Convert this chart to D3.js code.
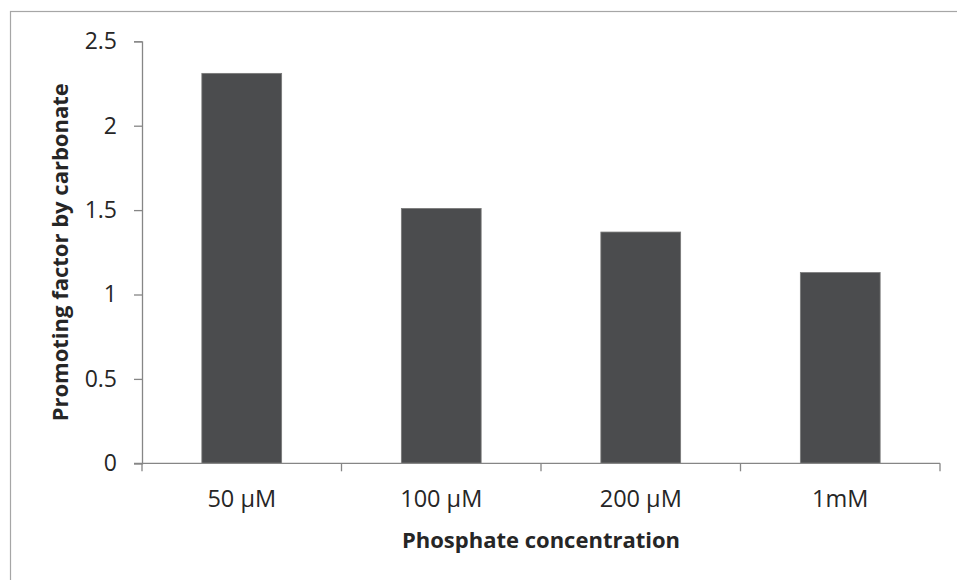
<!DOCTYPE html>
<html><head><meta charset="utf-8">
<script src="https://cdn.jsdelivr.net/npm/d3@7"></script>
<style>body{margin:0;background:#fff}svg{display:block}</style>
</head><body>
<svg id="c" width="957" height="580"></svg>
<script>
const categories = ["50 µM", "100 µM", "200 µM", "1mM"];
const values = [2.31, 1.51, 1.37, 1.13];
const yTicks = [0, 0.5, 1, 1.5, 2, 2.5];
const yTickLabels = ["0", "0.5", "1", "1.5", "2", "2.5"];
const xTitle = "Phosphate concentration";
const yTitle = "Promoting factor by carbonate";

const svg = d3.select("#c");
const mLeft = 142, mRight = 940, mTop = 41.3, mBottom = 463.3;
const axisColor = "#868686", textColor = "#262626";

svg.append("rect").attr("x", 10.5).attr("y", 11.5).attr("width", 1000).attr("height", 1000)
  .attr("fill", "none").attr("stroke", "#a6a6a6").attr("stroke-width", 1.2);

const x = d3.scaleBand().domain(categories).range([mLeft, mRight]).paddingInner(0.6).paddingOuter(0.3);
const y = d3.scaleLinear().domain([0, 2.5]).range([mBottom, mTop]);

// bars
svg.append("g").selectAll("rect").data(values).join("rect")
  .attr("x", (d, i) => x(categories[i]))
  .attr("width", x.bandwidth())
  .attr("y", d => y(d))
  .attr("height", d => y(0) - y(d))
  .attr("fill", "#4b4c4e")
  .attr("stroke", "#7a7a7a").attr("stroke-width", 0.8);

// y axis
const yAxis = d3.axisLeft(y).tickValues(yTicks).tickFormat((d, i) => yTickLabels[i]).tickSize(8).tickPadding(17);
const gy = svg.append("g").attr("transform", `translate(${mLeft},0)`).call(yAxis);
gy.select(".domain").attr("stroke", axisColor).attr("stroke-width", 1.3);
gy.selectAll(".tick line").attr("stroke", axisColor).attr("stroke-width", 1.3);
gy.selectAll(".tick text").attr("fill", textColor).style("font-family", "'Open Sans', sans-serif").style("font-size", "23px");

// x axis line + category ticks
const xb = d3.scaleLinear().domain([0, categories.length]).range([mLeft, mRight]);
svg.append("line").attr("x1", mLeft - 8).attr("x2", mRight).attr("y1", mBottom).attr("y2", mBottom)
  .attr("stroke", axisColor).attr("stroke-width", 1.3);
svg.append("g").selectAll("line").data(d3.range(categories.length + 1)).join("line")
  .attr("x1", d => xb(d)).attr("x2", d => xb(d))
  .attr("y1", mBottom).attr("y2", mBottom + 8)
  .attr("stroke", axisColor).attr("stroke-width", 1.3);
svg.append("g").selectAll("text").data(categories).join("text")
  .attr("x", d => x(d) + x.bandwidth() / 2).attr("y", 507)
  .attr("text-anchor", "middle").attr("fill", textColor)
  .style("font-family", "'Open Sans', sans-serif").style("font-size", "23.5px")
  .text(d => d);

// titles
svg.append("text").attr("x", (mLeft + mRight) / 2).attr("y", 548)
  .attr("text-anchor", "middle").attr("fill", textColor)
  .style("font-family", "'Open Sans', sans-serif").style("font-weight", "bold").style("font-size", "22px")
  .text(xTitle);
svg.append("text").attr("transform", `translate(68,${(mTop + mBottom) / 2}) rotate(-90)`)
  .attr("text-anchor", "middle").attr("fill", textColor)
  .style("font-family", "'Open Sans', sans-serif").style("font-weight", "bold").style("font-size", "22px")
  .text(yTitle);
</script>
</body></html>
